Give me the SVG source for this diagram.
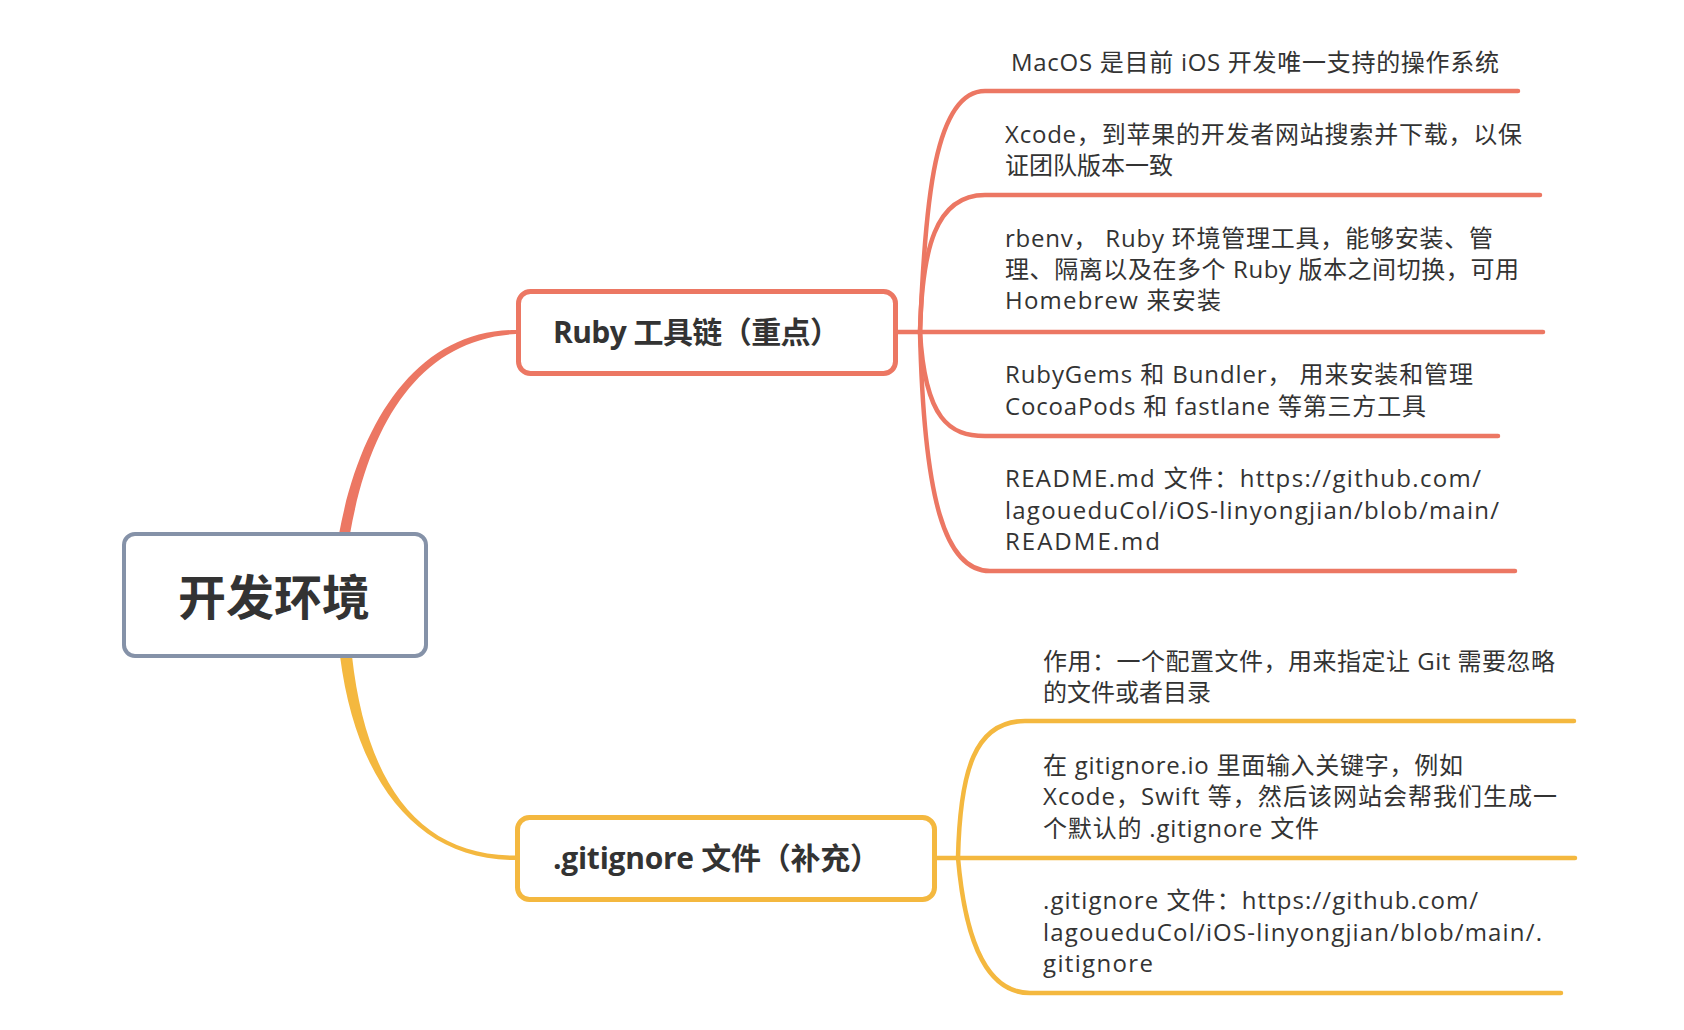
<svg xmlns="http://www.w3.org/2000/svg" width="1684" height="1030" viewBox="0 0 1684 1030">
<style>
.t{font-family:"Open Sans","Noto Sans CJK SC",sans-serif;fill:#333333}
.leaf{font-size:24px;font-weight:400}
.title{font-size:30px;font-weight:700}
.root{font-size:48px;font-weight:700}
.red{fill:none;stroke:#ec7763;stroke-width:4.5;stroke-linecap:round}
.yel{fill:none;stroke:#f4b83f;stroke-width:4.5;stroke-linecap:round}
</style>
<rect width="1684" height="1030" fill="#ffffff"/>
<g id="connectors">
<path d="M339 534 C360 420 418 330 516 330 L516 334 C422 339 370 420 350 534 Z" fill="#ec7763"/>
<path d="M340 656 C356 782 418 860.5 515 860 L515 855.5 C418 856 366 782 352 656 Z" fill="#f4b83f"/>
<path class="red" d="M898 332 L1543 332"/>
<path class="red" d="M920 332 C925 200 935 91 985 91 L1518 91"/>
<path class="red" d="M920 332 C922 250 935 195 985 195 L1540 195"/>
<path class="red" d="M920 332 C925 420 950 436 985 436 L1498 436"/>
<path class="red" d="M920 332 C924 500 945 571 990 571 L1515 571"/>
<path class="yel" d="M937 858 L1575 858"/>
<path class="yel" d="M958 858 C960 770 975 721 1025 721 L1574 721"/>
<path class="yel" d="M958 858 C966 950 990 993 1030 993 L1561 993"/>
</g>
<g id="root">
<rect x="124" y="534" width="302" height="122" rx="11" fill="#ffffff" stroke="#8592a8" stroke-width="4"/>
<text class="t root" x="274" y="615" text-anchor="middle">开发环境</text>
</g>
<g id="ruby">
<rect x="518.5" y="291.5" width="377" height="82" rx="12" fill="#ffffff" stroke="#ec7763" stroke-width="5"/>
<text class="t title" x="553" y="343" textLength="287" lengthAdjust="spacing">Ruby 工具链（重点）</text>
</g>
<g id="gitignore">
<rect x="517.5" y="817.5" width="417" height="82" rx="12" fill="#ffffff" stroke="#f4b83f" stroke-width="5"/>
<text class="t title" x="553" y="869" textLength="327" lengthAdjust="spacing">.gitignore 文件（补充）</text>
</g>
<g id="leaf-macos">
<text class="t leaf" x="1011" y="71" textLength="488" lengthAdjust="spacing">MacOS 是目前 iOS 开发唯一支持的操作系统</text>
</g>
<g id="leaf-xcode">
<text class="t leaf" x="1005" y="143" textLength="517" lengthAdjust="spacing">Xcode，到苹果的开发者网站搜索并下载，以保</text>
<text class="t leaf" x="1005" y="174">证团队版本一致</text>
</g>
<g id="leaf-rbenv">
<text class="t leaf" x="1005" y="247" textLength="488" lengthAdjust="spacing">rbenv， Ruby 环境管理工具，能够安装、管</text>
<text class="t leaf" x="1005" y="278" textLength="514" lengthAdjust="spacing">理、隔离以及在多个 Ruby 版本之间切换，可用</text>
<text class="t leaf" x="1005" y="309" textLength="216" lengthAdjust="spacing">Homebrew 来安装</text>
</g>
<g id="leaf-rubygems">
<text class="t leaf" x="1005" y="383" textLength="468" lengthAdjust="spacing">RubyGems 和 Bundler， 用来安装和管理</text>
<text class="t leaf" x="1005" y="415" textLength="421" lengthAdjust="spacing">CocoaPods 和 fastlane 等第三方工具</text>
</g>
<g id="leaf-readme">
<text class="t leaf" x="1005" y="487" textLength="476" lengthAdjust="spacing">README.md 文件：https://github.com/</text>
<text class="t leaf" x="1005" y="519" textLength="494" lengthAdjust="spacing">lagoueduCol/iOS-linyongjian/blob/main/</text>
<text class="t leaf" x="1005" y="550" textLength="155" lengthAdjust="spacing">README.md</text>
</g>
<g id="leaf-purpose">
<text class="t leaf" x="1043" y="670" textLength="512" lengthAdjust="spacing">作用：一个配置文件，用来指定让 Git 需要忽略</text>
<text class="t leaf" x="1043" y="701">的文件或者目录</text>
</g>
<g id="leaf-gitignoreio">
<text class="t leaf" x="1043" y="774" textLength="420" lengthAdjust="spacing">在 gitignore.io 里面输入关键字，例如</text>
<text class="t leaf" x="1043" y="805" textLength="514" lengthAdjust="spacing">Xcode，Swift 等，然后该网站会帮我们生成一</text>
<text class="t leaf" x="1043" y="837" textLength="276" lengthAdjust="spacing">个默认的 .gitignore 文件</text>
</g>
<g id="leaf-gitlink">
<text class="t leaf" x="1043" y="909" textLength="435" lengthAdjust="spacing">.gitignore 文件：https://github.com/</text>
<text class="t leaf" x="1043" y="941" textLength="499" lengthAdjust="spacing">lagoueduCol/iOS-linyongjian/blob/main/.</text>
<text class="t leaf" x="1043" y="972" textLength="110" lengthAdjust="spacing">gitignore</text>
</g>
</svg>
